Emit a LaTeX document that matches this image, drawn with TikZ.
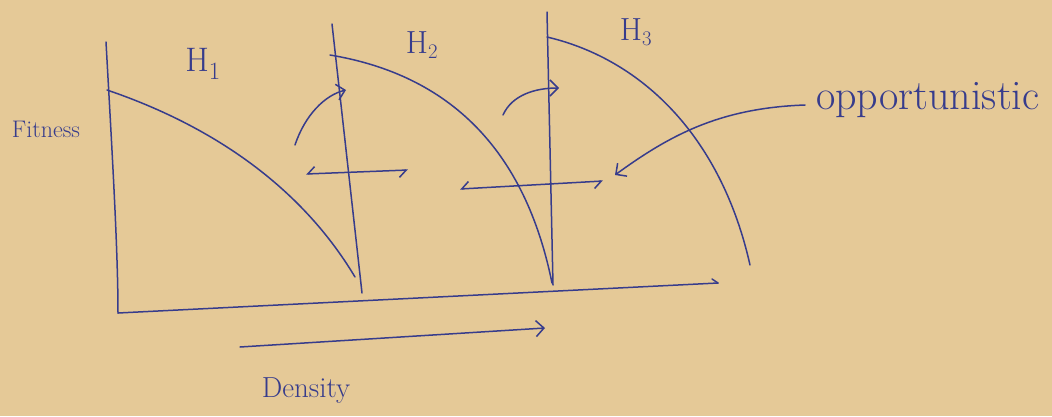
\documentclass[tikz,border=0pt]{standalone}
\usetikzlibrary{arrows.meta}
\definecolor{paper}{RGB}{229,201,151}
\definecolor{ink}{RGB}{55,60,140}
\begin{document}
\begin{tikzpicture}[x=1pt,y=-1pt,
  pen/.style={draw=ink,line width=1.5pt,line cap=round,line join=round},
  lbl/.style={text=ink,inner sep=0pt},
  hook/.style={pen,{Straight Barb[harpoon,swap,length=7pt,width=14pt]}-{Straight Barb[harpoon,swap,length=7pt,width=14pt]}},
  openarrow/.style={pen,-{Straight Barb[length=8pt,width=16pt]}}]
\fill[paper] (0,0) rectangle (1052,416);
\useasboundingbox (0,0) rectangle (1052,416);
% axes
\coordinate (o) at (118,313);
\coordinate (ytop) at (106,42);
\coordinate (xend) at (718,283);
\draw[pen] (ytop) .. controls (112,150) and (118,250) .. (o);
\draw[pen] (o) -- (xend);
\draw[pen] (xend) -- (712,279);
% secondary axes
\coordinate (a2t) at (332,24); \coordinate (a2b) at (362,293);
\coordinate (a3t) at (547,12); \coordinate (a3b) at (553,285);
\draw[pen] (a2t) -- (a2b);
\draw[pen] (a3t) -- (a3b);
% fitness curves
\draw[pen] (107,90) .. controls (210,125) and (300,185) .. (355,277);
\draw[pen] (330,55) .. controls (450,75) and (525,150) .. (552,283);
\draw[pen] (547,37) .. controls (645,60) and (722,140) .. (750,265);
% curved arrows
\coordinate (c1s) at (295,145); \coordinate (c1e) at (346,90);
\coordinate (c2s) at (503,115); \coordinate (c2e) at (559,88);
\draw[openarrow] (c1s) .. controls (305,115) and (325,95) .. (c1e);
\draw[openarrow] (c2s) .. controls (512,95) and (535,88) .. (c2e);
% double horizontal arrows
\coordinate (h1l) at (306,174); \coordinate (h1r) at (408,170);
\coordinate (h2l) at (460,189); \coordinate (h2r) at (603,181);
\draw[hook] (h1l) -- (h1r);
\draw[hook] (h2l) -- (h2r);
% density arrow
\coordinate (d1) at (240,347); \coordinate (d2) at (545,328);
\draw[openarrow] (d1) -- (d2);
% labels
\node[lbl,font=\fontsize{24}{26}\selectfont] (fit) at (46,129) {Fitness};
\node[lbl,font=\fontsize{34}{36}\selectfont] (h1) at (203,64) {H$_1$};
\node[lbl,font=\fontsize{32}{34}\selectfont] (h2) at (422,45) {H$_2$};
\node[lbl,font=\fontsize{32}{34}\selectfont] (h3) at (636,32) {H$_3$};
\node[lbl,font=\fontsize{29}{31}\selectfont] (dens) at (306,391) {Density};
\node[lbl,font=\fontsize{42}{44}\selectfont,anchor=west] (opp) at (816,100) {opportunistic};
% opportunistic pointer
\coordinate (op1) at (805,105); \coordinate (op2) at (615,175);
\draw[openarrow] (op1) .. controls (720,108) and (670,135) .. (op2);
\end{tikzpicture}
\end{document}
